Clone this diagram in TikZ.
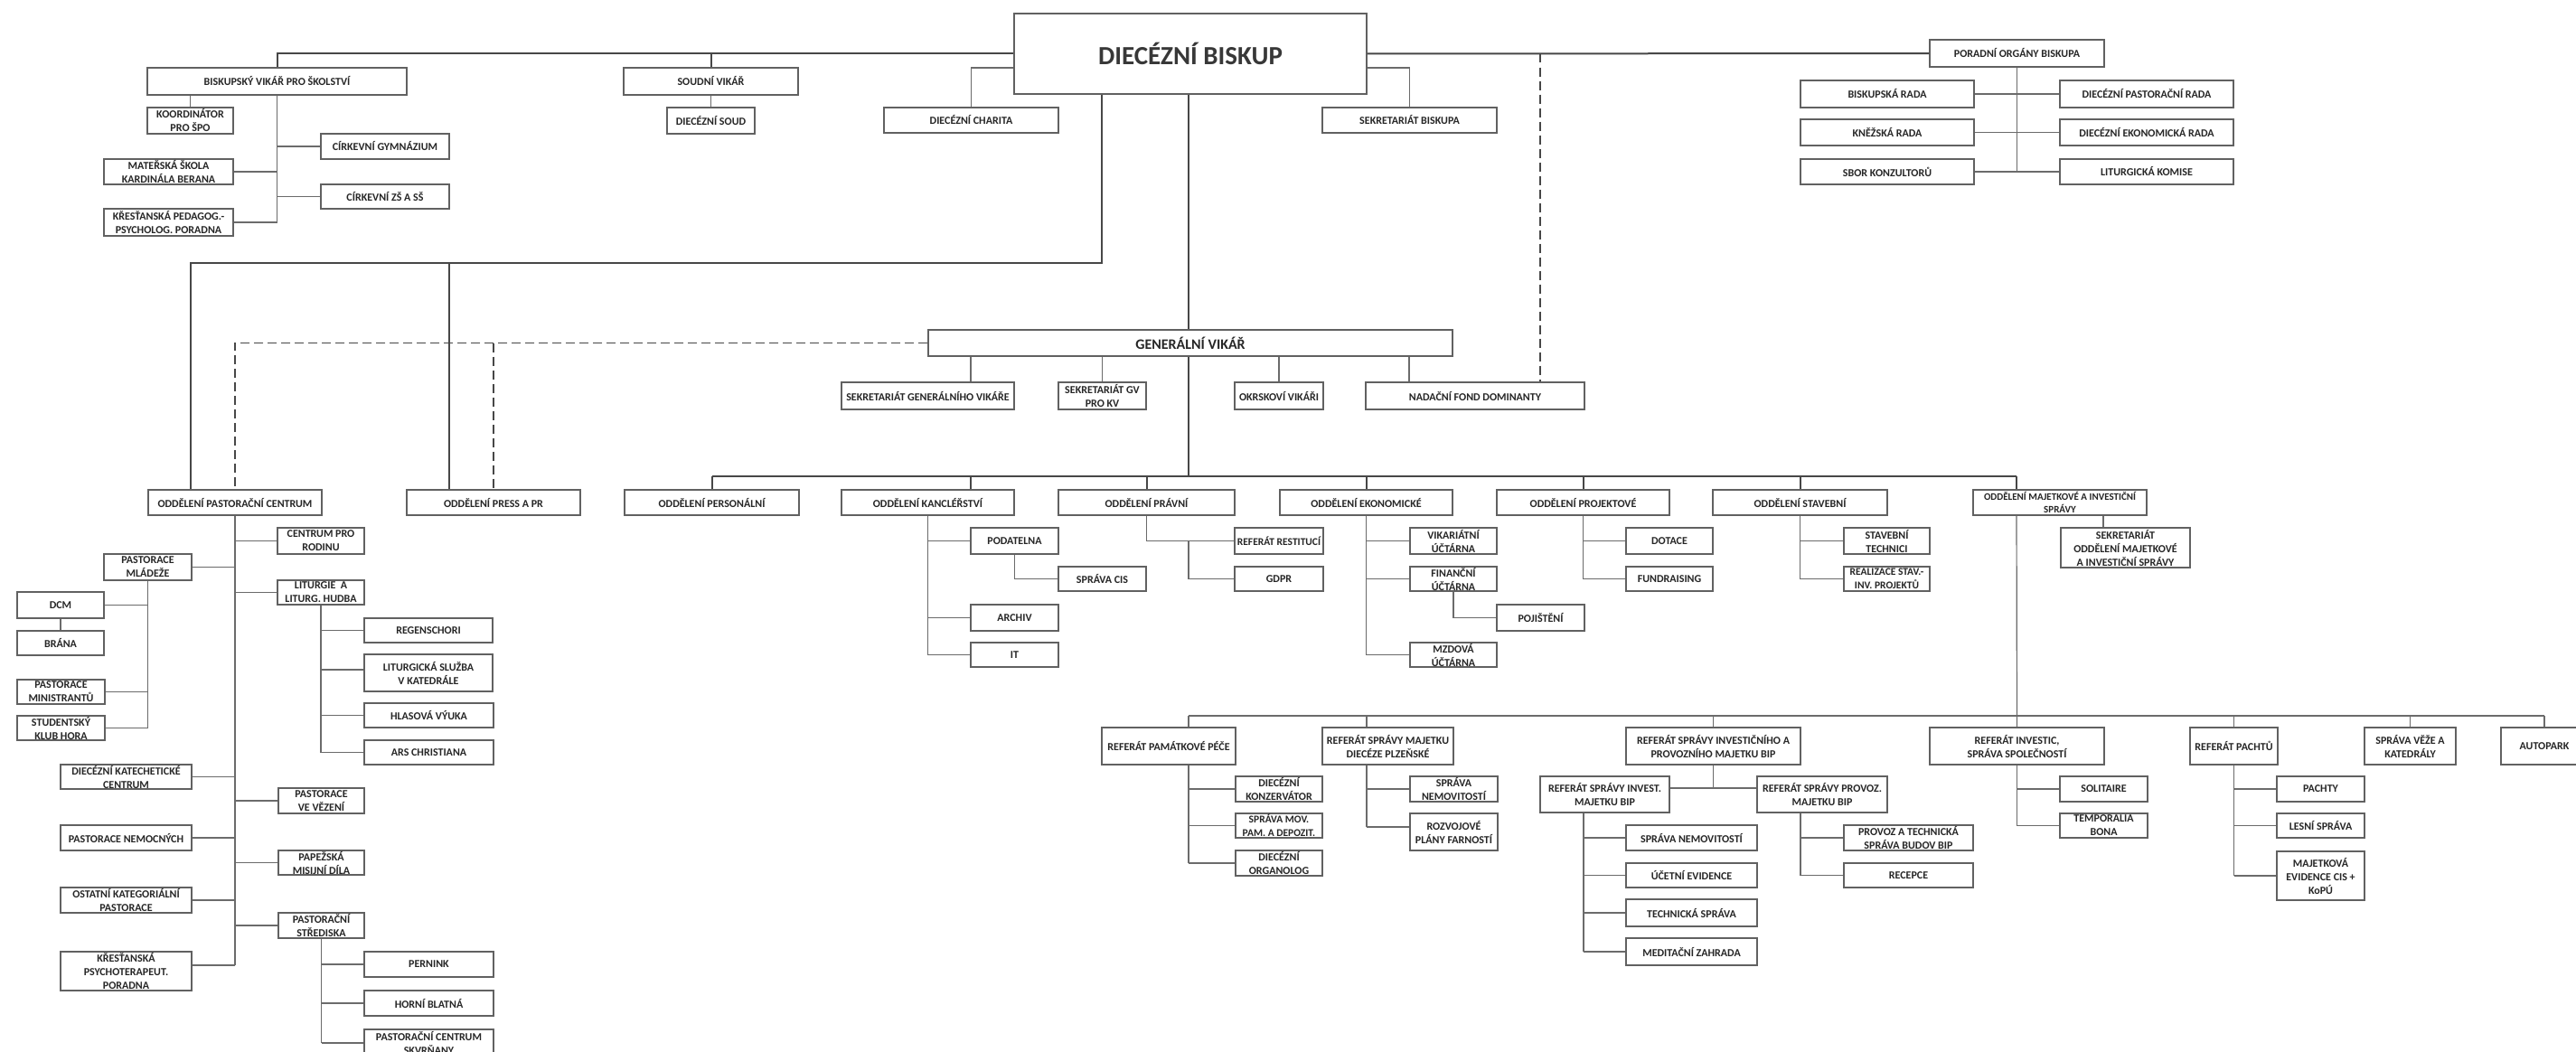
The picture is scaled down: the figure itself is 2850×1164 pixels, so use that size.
\documentclass[tikz,border=0pt]{standalone}
\usepackage{fontspec}
\setmainfont{Carlito}
\newcommand\obox[7][]{\node[box,minimum width={#5pt-#3pt},minimum height={#6pt-#4pt},#1] (#2) at ({(#3+#5)/2},{(#4+#6)/2}) {#7};}
\begin{document}
\begin{tikzpicture}[x=1pt,y=-1pt,
 box/.style={draw=black!62,line width=1.2pt,fill=white,inner sep=0pt,align=center,text=black!85,font=\fontsize{12}{15}\selectfont\bfseries},
 small/.style={font=\fontsize{11.5}{15}\selectfont\bfseries},
 main/.style={draw=black!72,line width=2pt},
 conn/.style={draw=black!58,line width=1.2pt},
 dsh/.style={draw=black!72,line width=1.6pt,dash pattern=on 10pt off 5pt}]
\useasboundingbox[fill=white] (0,0) rectangle (2850,1164);

% ---------- top level ----------
\obox[font=\fontsize{29}{32}\selectfont\bfseries,text=black!78]{biskup}{1122}{15}{1512}{104}{DIECÉZNÍ BISKUP}
\obox{bvs}{163}{75}{450}{105}{BISKUPSKÝ VIKÁŘ PRO ŠKOLSTVÍ}
\obox{koord}{163}{119}{258}{148}{KOORDINÁTOR\\PRO ŠPO}
\obox{gym}{355}{148}{497}{176}{CÍRKEVNÍ GYMNÁZIUM}
\obox{ms}{115}{176}{258}{204}{MATEŘSKÁ ŠKOLA\\KARDINÁLA BERANA}
\obox{zs}{355}{204}{497}{231}{CÍRKEVNÍ ZŠ A SŠ}
\obox{kpp}{115}{231}{258}{261}{KŘESŤANSKÁ PEDAGOG.-\\PSYCHOLOG. PORADNA}
\obox{sv}{690}{75}{883}{105}{SOUDNÍ VIKÁŘ}
\obox{soud}{738}{119}{835}{148}{DIECÉZNÍ SOUD}
\obox{charita}{978}{119}{1171}{147}{DIECÉZNÍ CHARITA}
\obox{sekb}{1463}{119}{1656}{147}{SEKRETARIÁT BISKUPA}
\obox{por}{2135}{44}{2328}{74}{PORADNÍ ORGÁNY BISKUPA}
\obox{brada}{1992}{89}{2184}{119}{BISKUPSKÁ RADA}
\obox{krada}{1992}{132}{2184}{161}{KNĚŽSKÁ RADA}
\obox{sbor}{1992}{176}{2184}{204}{SBOR KONZULTORŮ}
\obox{dpr}{2279}{89}{2471}{119}{DIECÉZNÍ PASTORAČNÍ RADA}
\obox{der}{2279}{132}{2471}{161}{DIECÉZNÍ EKONOMICKÁ RADA}
\obox{lk}{2279}{176}{2471}{204}{LITURGICKÁ KOMISE}

% ---------- generalni vikar ----------
\obox[font=\fontsize{16}{18}\selectfont\bfseries]{gv}{1027}{365}{1607}{394}{GENERÁLNÍ VIKÁŘ}
\obox{sgv}{931}{423}{1122}{453}{SEKRETARIÁT GENERÁLNÍHO VIKÁŘE}
\obox{sgvkv}{1171}{423}{1268}{453}{SEKRETARIÁT GV\\PRO KV}
\obox{okr}{1366}{423}{1464}{453}{OKRSKOVÍ VIKÁŘI}
\obox{nfd}{1511}{423}{1753}{453}{NADAČNÍ FOND DOMINANTY}

% ---------- departments ----------
\obox{opc}{164}{542}{356}{570}{ODDĚLENÍ PASTORAČNÍ CENTRUM}
\obox{opr}{450}{542}{642}{570}{ODDĚLENÍ PRESS A PR}
\obox{ope}{691}{542}{884}{570}{ODDĚLENÍ PERSONÁLNÍ}
\obox{okan}{931}{542}{1122}{570}{ODDĚLENÍ KANCLÉŘSTVÍ}
\obox{opra}{1171}{542}{1366}{570}{ODDĚLENÍ PRÁVNÍ}
\obox{oek}{1416}{542}{1607}{570}{ODDĚLENÍ EKONOMICKÉ}
\obox{oproj}{1656}{542}{1847}{570}{ODDĚLENÍ PROJEKTOVÉ}
\obox{ost}{1895}{542}{2088}{570}{ODDĚLENÍ STAVEBNÍ}
\obox[font=\fontsize{11}{14}\selectfont\bfseries]{omaj}{2183}{542}{2375}{570}{ODDĚLENÍ MAJETKOVÉ A INVESTIČNÍ\\SPRÁVY}

% kanclerstvi
\obox{podatelna}{1074}{584}{1171}{613}{PODATELNA}
\obox{spcis}{1171}{627}{1268}{654}{SPRÁVA CIS}
\obox{archiv}{1074}{669}{1171}{698}{ARCHIV}
\obox{it}{1074}{711}{1171}{738}{IT}
% pravni
\obox[small]{rr}{1366}{584}{1464}{613}{REFERÁT RESTITUCÍ}
\obox{gdpr}{1366}{627}{1464}{654}{GDPR}
% ekonomicke
\obox{vu}{1560}{584}{1656}{613}{VIKARIÁTNÍ\\ÚČTÁRNA}
\obox{fu}{1560}{627}{1656}{654}{FINANČNÍ\\ÚČTÁRNA}
\obox{poj}{1656}{669}{1753}{698}{POJIŠTĚNÍ}
\obox{mu}{1560}{711}{1656}{738}{MZDOVÁ\\ÚČTÁRNA}
% projektove
\obox{dot}{1799}{584}{1895}{613}{DOTACE}
\obox{fund}{1799}{627}{1895}{654}{FUNDRAISING}
% stavebni
\obox{stt}{2040}{584}{2135}{613}{STAVEBNÍ\\TECHNICI}
\obox[small]{rsip}{2040}{627}{2135}{654}{REALIZACE STAV.-\\INV. PROJEKTŮ}
% majetkove
\obox{somis}{2280}{584}{2423}{628}{SEKRETARIÁT\\ODDĚLENÍ MAJETKOVÉ\\A INVESTIČNÍ SPRÁVY}

% pastoracni centrum
\obox{cpr}{307}{584}{403}{613}{CENTRUM PRO\\RODINU}
\obox{pm}{115}{613}{212}{642}{PASTORACE\\MLÁDEŽE}
\obox{lit}{307}{642}{403}{669}{LITURGIE~ A\\LITURG. HUDBA}
\obox{dcm}{19}{655}{115}{684}{DCM}
\obox{brana}{19}{698}{115}{725}{BRÁNA}
\obox{reg}{403}{684}{545}{711}{REGENSCHORI}
\obox{lsk}{403}{724}{545}{765}{LITURGICKÁ SLUŽBA\\V KATEDRÁLE}
\obox{pmin}{19}{752}{116}{779}{PASTORACE\\MINISTRANTŮ}
\obox{skh}{19}{792}{116}{819}{STUDENTSKÝ\\KLUB HORA}
\obox{hv}{403}{778}{546}{805}{HLASOVÁ VÝUKA}
\obox{ars}{403}{819}{546}{846}{ARS CHRISTIANA}
\obox{dkc}{67}{846}{212}{873}{DIECÉZNÍ KATECHETICKÉ\\CENTRUM}
\obox{pvv}{308}{872}{403}{900}{PASTORACE\\VE VĚZENÍ}
\obox{pn}{67}{913}{212}{941}{PASTORACE NEMOCNÝCH}
\obox{pmd}{308}{941}{403}{968}{PAPEŽSKÁ\\MISIJNÍ DÍLA}
\obox{okp}{67}{982}{212}{1010}{OSTATNÍ KATEGORIÁLNÍ\\PASTORACE}
\obox{pst}{308}{1010}{403}{1038}{PASTORAČNÍ\\STŘEDISKA}
\obox{kpsp}{67}{1053}{212}{1096}{KŘESŤANSKÁ\\PSYCHOTERAPEUT.\\PORADNA}
\obox{pern}{403}{1053}{546}{1081}{PERNINK}
\obox{hb}{403}{1096}{546}{1124}{HORNÍ BLATNÁ}
\obox{pcs}{403}{1139}{546}{1168}{PASTORAČNÍ CENTRUM\\SKVRŇANY}

% ---------- referaty ----------
\obox{rpp}{1219}{805}{1367}{846}{REFERÁT PAMÁTKOVÉ PÉČE}
\obox{rsm}{1463}{805}{1608}{846}{REFERÁT SPRÁVY MAJETKU\\DIECÉZE PLZEŇSKÉ}
\obox{rsi}{1799}{805}{1992}{846}{REFERÁT SPRÁVY INVESTIČNÍHO A\\PROVOZNÍHO MAJETKU BIP}
\obox{rinv}{2135}{805}{2328}{846}{REFERÁT INVESTIC,\\SPRÁVA SPOLEČNOSTÍ}
\obox{rpa}{2423}{805}{2520}{846}{REFERÁT PACHTŮ}
\obox{svk}{2616}{805}{2717}{846}{SPRÁVA VĚŽE A\\KATEDRÁLY}
\obox{auto}{2767}{805}{2863}{846}{AUTOPARK}
\obox{dk}{1367}{859}{1463}{887}{DIECÉZNÍ\\KONZERVÁTOR}
\obox[small]{smp}{1367}{900}{1463}{927}{SPRÁVA MOV.\\PAM. A DEPOZIT.}
\obox{dor}{1367}{941}{1463}{969}{DIECÉZNÍ\\ORGANOLOG}
\obox{snm}{1560}{859}{1657}{887}{SPRÁVA\\NEMOVITOSTÍ}
\obox{rpf}{1560}{900}{1657}{941}{ROZVOJOVÉ\\PLÁNY FARNOSTÍ}
\obox{rsinv}{1704}{859}{1847}{899}{REFERÁT SPRÁVY INVEST.\\MAJETKU BIP}
\obox{rsprov}{1944}{859}{2088}{899}{REFERÁT SPRÁVY PROVOZ.\\MAJETKU BIP}
\obox{sn2}{1799}{913}{1944}{941}{SPRÁVA NEMOVITOSTÍ}
\obox{ue}{1799}{955}{1944}{982}{ÚČETNÍ EVIDENCE}
\obox{ts}{1799}{995}{1944}{1025}{TECHNICKÁ SPRÁVA}
\obox{mz}{1799}{1038}{1944}{1068}{MEDITAČNÍ ZAHRADA}
\obox{ptsb}{2040}{913}{2183}{941}{PROVOZ A TECHNICKÁ\\SPRÁVA BUDOV BIP}
\obox{rec}{2040}{955}{2183}{982}{RECEPCE}
\obox{sol}{2279}{859}{2376}{887}{SOLITAIRE}
\obox{tb}{2279}{900}{2376}{927}{TEMPORALIA\\BONA}
\obox{pach}{2519}{859}{2616}{887}{PACHTY}
\obox{ls}{2519}{900}{2616}{927}{LESNÍ SPRÁVA}
\obox{mec}{2519}{942}{2616}{996}{MAJETKOVÁ\\EVIDENCE CIS +\\KoPÚ}

% ---------- connectors: top ----------
\draw[main] (bvs.north) |- (biskup.west);
\draw[main] (sv.north) -- (sv.north |- biskup.west);
\draw[main] (biskup.east) -- (por.west);
\draw[conn] (biskup.west |- 0,75) -| (charita.north);
\draw[conn] (biskup.east |- 0,75) -| (sekb.north);
\draw[conn] (sv.south) -- (soud.north);
\draw[conn] (koord.north |- bvs.south) -- (koord.north);
\draw[conn] (bvs.south) -- (bvs.south |- kpp.east);
\draw[conn] (gym.west) -- (gym.west -| bvs.south);
\draw[conn] (ms.east) -- (ms.east -| bvs.south);
\draw[conn] (zs.west) -- (zs.west -| bvs.south);
\draw[conn] (kpp.east) -- (kpp.east -| bvs.south);
\draw[conn] (por.south) -- (por.south |- sbor.east);
\draw[conn] (brada.east) -- (dpr.west);
\draw[conn] (krada.east) -- (der.west);
\draw[conn] (sbor.east) -- (lk.west);
\draw[dsh] (1704,0 |- biskup.east) -- (1704,0 |- nfd.north);

% biskup -> departments
\draw[main] (1219,0 |- biskup.south) |- (211,291) -- (211,0 |- opc.north);
\draw[main] (497,291) -- (497,0 |- opr.north);
\draw[main] (1315,0 |- biskup.south) -- (1315,0 |- gv.north);
\draw[dsh] (gv.west) -| (opc.north);
\draw[dsh] (opr.north |- gv.west) -- (opr.north);

% gv
\draw[conn] (1074,0 |- gv.south) -- (1074,0 |- sgv.north);
\draw[conn] (sgvkv.north) -- (sgvkv.north |- gv.south);
\draw[conn] (okr.north) -- (okr.north |- gv.south);
\draw[conn] (1559,0 |- gv.south) -- (1559,0 |- nfd.north);
\draw[main] (1315,0 |- gv.south) -- (1315,527);
\draw[main] (ope.north |- 0,527) -- (2231,527);
\draw[main] (ope.north) -- (ope.north |- 0,527);
\draw[main] (1074,0 |- okan.north) -- (1074,527);
\draw[main] (opra.north) -- (opra.north |- 0,527);
\draw[main] (oek.north) -- (oek.north |- 0,527);
\draw[main] (oproj.north) -- (oproj.north |- 0,527);
\draw[main] (ost.north) -- (ost.north |- 0,527);
\draw[main] (2231,0 |- omaj.north) -- (2231,527);

% kanclerstvi
\draw[conn] (okan.south) -- (okan.south |- it.west);
\draw[conn] (podatelna.west) -- (podatelna.west -| okan.south);
\draw[conn] (archiv.west) -- (archiv.west -| okan.south);
\draw[conn] (it.west) -- (it.west -| okan.south);
\draw[conn] (podatelna.south) |- (spcis.west);
% pravni
\draw[conn] (opra.south) |- (rr.west);
\draw[conn] (1315,0 |- rr.west) |- (gdpr.west);
% ekonomicke
\draw[conn] (oek.south) -- (oek.south |- mu.west);
\draw[conn] (vu.west) -- (vu.west -| oek.south);
\draw[conn] (fu.west) -- (fu.west -| oek.south);
\draw[conn] (mu.west) -- (mu.west -| oek.south);
\draw[conn] (fu.south) |- (poj.west);
% projektove
\draw[conn] (oproj.south) -- (oproj.south |- fund.west);
\draw[conn] (dot.west) -- (dot.west -| oproj.south);
\draw[conn] (fund.west) -- (fund.west -| oproj.south);
% stavebni
\draw[conn] (ost.south) -- (ost.south |- rsip.west);
\draw[conn] (stt.west) -- (stt.west -| ost.south);
\draw[conn] (rsip.west) -- (rsip.west -| ost.south);
% majetkove
\draw[conn] (2327,0 |- omaj.south) -- (2327,0 |- somis.north);
\draw[conn] (2231,0 |- omaj.south) -- (rinv.north);

% pastoracni centrum
\draw[conn] (opc.south) -- (opc.south |- 0,1068);
\draw[conn] (cpr.west) -- (cpr.west -| opc.south);
\draw[conn] (pm.east) -- (pm.east -| opc.south);
\draw[conn] (lit.west) -- (lit.west -| opc.south);
\draw[conn] (dkc.east) -- (dkc.east -| opc.south);
\draw[conn] (pvv.west) -- (pvv.west -| opc.south);
\draw[conn] (pn.east) -- (pn.east -| opc.south);
\draw[conn] (pmd.west) -- (pmd.west -| opc.south);
\draw[conn] (okp.east) -- (okp.east -| opc.south);
\draw[conn] (pst.west) -- (pst.west -| opc.south);
\draw[conn] (kpsp.east |- 0,1068) -- (opc.south |- 0,1068);
\draw[conn] (pm.south) -- (pm.south |- skh.east);
\draw[conn] (dcm.east) -- (dcm.east -| pm.south);
\draw[conn] (pmin.east) -- (pmin.east -| pm.south);
\draw[conn] (skh.east) -- (skh.east -| pm.south);
\draw[conn] (dcm.south) -- (brana.north);
\draw[conn] (lit.south) -- (lit.south |- ars.west);
\draw[conn] (reg.west) -- (reg.west -| lit.south);
\draw[conn] (lsk.west |- 0,741) -- (lit.south |- 0,741);
\draw[conn] (hv.west) -- (hv.west -| lit.south);
\draw[conn] (ars.west) -- (ars.west -| lit.south);
\draw[conn] (pst.south) -- (pst.south |- 0,1154);
\draw[conn] (pern.west) -- (pern.west -| pst.south);
\draw[conn] (hb.west) -- (hb.west -| pst.south);
\draw[conn] (pcs.west |- 0,1154) -- (pst.south |- 0,1154);

% referaty bus
\draw[conn] (1315,792) -- (auto.north |- 0,792);
\draw[conn] (1315,792) -- (1315,0 |- rpp.north);
\draw[conn] (1512,792) -- (1512,0 |- rsm.north);
\draw[conn] (rsi.north) -- (rsi.north |- 0,792);
\draw[conn] (rpa.north) -- (rpa.north |- 0,792);
\draw[conn] (svk.north) -- (svk.north |- 0,792);
\draw[conn] (auto.north) -- (auto.north |- 0,792);
% pamatkova
\draw[conn] (1315,0 |- rpp.south) -- (1315,0 |- dor.west);
\draw[conn] (dk.west) -- (dk.west -| 1315,0);
\draw[conn] (smp.west) -- (smp.west -| 1315,0);
\draw[conn] (dor.west) -- (dor.west -| 1315,0);
% majetku dieceze
\draw[conn] (1512,0 |- rsm.south) -- (1512,915);
\draw[conn] (snm.west) -- (snm.west -| 1512,0);
\draw[conn] (rpf.west |- 0,915) -- (1512,915);
% investicniho
\draw[conn] (rsi.south) -- (rsi.south |- 0,872);
\draw[conn] (rsinv.east |- 0,872) -- (rsprov.west |- 0,872);
\draw[conn] (1752,0 |- rsinv.south) -- (1752,0 |- mz.west);
\draw[conn] (sn2.west) -- (sn2.west -| 1752,0);
\draw[conn] (ue.west) -- (ue.west -| 1752,0);
\draw[conn] (ts.west) -- (ts.west -| 1752,0);
\draw[conn] (mz.west) -- (mz.west -| 1752,0);
\draw[conn] (1992,0 |- rsprov.south) -- (1992,0 |- rec.west);
\draw[conn] (ptsb.west) -- (ptsb.west -| 1992,0);
\draw[conn] (rec.west) -- (rec.west -| 1992,0);
% investic
\draw[conn] (rinv.south) -- (rinv.south |- tb.west);
\draw[conn] (sol.west) -- (sol.west -| rinv.south);
\draw[conn] (tb.west) -- (tb.west -| rinv.south);
% pachtu
\draw[conn] (rpa.south) -- (rpa.south |- mec.west);
\draw[conn] (pach.west) -- (pach.west -| rpa.south);
\draw[conn] (ls.west) -- (ls.west -| rpa.south);
\draw[conn] (mec.west) -- (mec.west -| rpa.south);
\end{tikzpicture}
\end{document}
